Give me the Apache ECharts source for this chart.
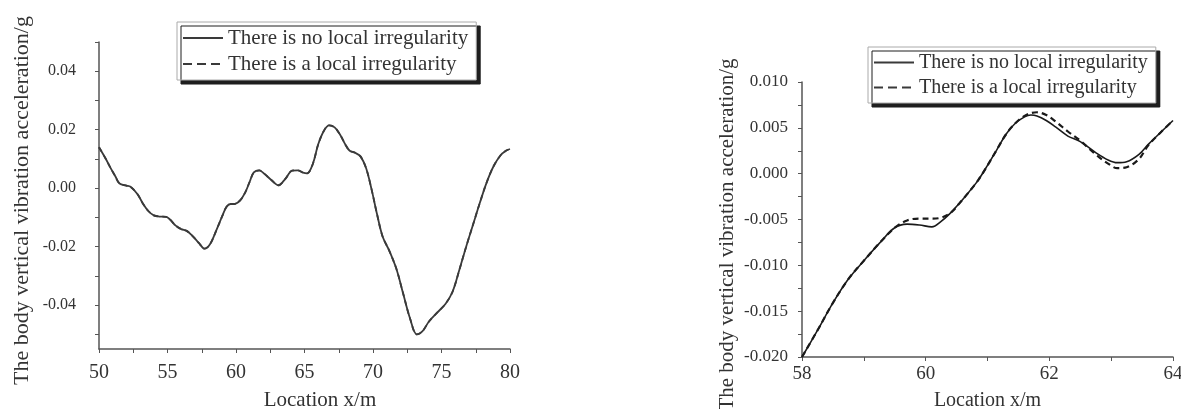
<!DOCTYPE html>
<html>
<head>
<meta charset="utf-8">
<script src="https://cdn.jsdelivr.net/npm/echarts@6/dist/echarts.min.js"></script>
<style>
html,body{margin:0;padding:0;background:#fff;}
#chart{width:1181px;height:409px;}
</style>
</head>
<body>
<div id="chart"></div>
<script>
// ---------- Data ----------
const seriesNames = ['There is no local irregularity', 'There is a local irregularity'];
const xAxisName = 'Location x/m';
const yAxisName = 'The body vertical vibration acceleration/g';

// Left chart (50–80 m)
const leftX = [50.0, 50.5, 50.8, 51.2, 51.5, 52.0, 52.3, 52.8, 53.2, 53.6, 54.0, 54.4, 54.9, 55.2, 55.6, 56.0, 56.4, 56.8, 57.3, 57.7, 58.1, 58.6, 59.0, 59.3, 59.6, 59.9, 60.3, 60.7, 61.0, 61.3, 61.7, 62.1, 62.6, 63.1, 63.6, 64.1, 64.5, 64.9, 65.2, 65.6, 66.0, 66.4, 66.8, 67.2, 67.6, 68.0, 68.3, 68.7, 69.1, 69.5, 69.9, 70.3, 70.7, 71.2, 71.7, 72.2, 72.7, 73.2, 73.6, 74.1, 74.7, 75.3, 75.8, 76.3, 76.8, 77.3, 77.8, 78.3, 78.8, 79.3, 79.7, 80.0];
const leftNoIrr = [0.0140, 0.0100, 0.0073, 0.0040, 0.0016, 0.0009, 0.0005, -0.0020, -0.0052, -0.0078, -0.0093, -0.0097, -0.0098, -0.0108, -0.0128, -0.0140, -0.0146, -0.0162, -0.0188, -0.0207, -0.0192, -0.0140, -0.0095, -0.0064, -0.0054, -0.0054, -0.0042, -0.0012, 0.0022, 0.0054, 0.0061, 0.0048, 0.0027, 0.0010, 0.0032, 0.0060, 0.0061, 0.0053, 0.0051, 0.0082, 0.0150, 0.0195, 0.0215, 0.0208, 0.0183, 0.0148, 0.0128, 0.0121, 0.0108, 0.0068, -0.0005, -0.0090, -0.0165, -0.0215, -0.0275, -0.0360, -0.0445, -0.0500, -0.0490, -0.0455, -0.0425, -0.0395, -0.0355, -0.0280, -0.0200, -0.0125, -0.0050, 0.0020, 0.0075, 0.0112, 0.0128, 0.0134];
const leftIrr = [0.0140, 0.0100, 0.0073, 0.0040, 0.0016, 0.0009, 0.0005, -0.0020, -0.0052, -0.0078, -0.0093, -0.0097, -0.0098, -0.0108, -0.0128, -0.0140, -0.0146, -0.0162, -0.0188, -0.0207, -0.0192, -0.0140, -0.0095, -0.0064, -0.0054, -0.0054, -0.0042, -0.0012, 0.0022, 0.0054, 0.0061, 0.0048, 0.0027, 0.0010, 0.0032, 0.0060, 0.0061, 0.0053, 0.0051, 0.0082, 0.0150, 0.0195, 0.0215, 0.0208, 0.0183, 0.0148, 0.0128, 0.0121, 0.0108, 0.0068, -0.0005, -0.0090, -0.0165, -0.0215, -0.0275, -0.0360, -0.0445, -0.0500, -0.0490, -0.0455, -0.0425, -0.0395, -0.0355, -0.0280, -0.0200, -0.0125, -0.0050, 0.0020, 0.0075, 0.0112, 0.0128, 0.0134];
const leftXTickLabels = [50, 55, 60, 65, 70, 75, 80];
const leftXTicks = [50, 52.5, 55, 57.5, 60, 62.5, 65, 67.5, 70, 72.5, 75, 77.5, 80];
const leftYTickLabels = [-0.04, -0.02, 0.00, 0.02, 0.04];
const leftYTicks = [-0.05, -0.04, -0.03, -0.02, -0.01, 0.00, 0.01, 0.02, 0.03, 0.04, 0.05];

// Right chart (58–64 m)
const rightX = [58.0, 58.25, 58.5, 58.75, 59.0, 59.25, 59.5, 59.7, 59.9, 60.1, 60.25, 60.4, 60.55, 60.7, 60.85, 61.0, 61.15, 61.3, 61.45, 61.6, 61.7, 61.8, 61.95, 62.1, 62.3, 62.5, 62.75, 62.95, 63.1, 63.25, 63.45, 63.6, 63.8, 64.0];
const rightNoIrr = [-0.0200, -0.0171, -0.0141, -0.0115, -0.0095, -0.0076, -0.0059, -0.0055, -0.0056, -0.0058, -0.0052, -0.0043, -0.0032, -0.0020, -0.0007, 0.0009, 0.0026, 0.0043, 0.0055, 0.0062, 0.0064, 0.0063, 0.0058, 0.0051, 0.0041, 0.0035, 0.0023, 0.0015, 0.0012, 0.0013, 0.0021, 0.0032, 0.0045, 0.0058];
const rightIrr = [-0.0200, -0.0171, -0.0141, -0.0115, -0.0095, -0.0076, -0.0059, -0.0051, -0.0049, -0.0049, -0.0048, -0.0043, -0.0032, -0.0020, -0.0007, 0.0009, 0.0026, 0.0043, 0.0055, 0.0063, 0.0066, 0.0067, 0.0064, 0.0057, 0.0046, 0.0036, 0.0021, 0.0011, 0.0006, 0.0007, 0.0016, 0.0031, 0.0045, 0.0058];
const rightXTickLabels = [58, 60, 62, 64];
const rightXTicks = [58, 59, 60, 61, 62, 63, 64];
const rightYTickLabels = [-0.020, -0.015, -0.010, -0.005, 0.000, 0.005, 0.010];
const rightYTicks = [-0.020, -0.0175, -0.015, -0.0125, -0.010, -0.0075, -0.005, -0.0025, 0.000, 0.0025, 0.005, 0.0075, 0.010];

// ---------- Chart ----------
const FONT = 'Liberation Serif';
const TXT = '#333';
const AXC = '#555';
const pairs = (xs, ys) => xs.map((x, i) => [x, ys[i]]);

function xAxisCfg(grid, min, max, ticks, labels, labelSize, labelMargin, nameSize, nameGap, namePadLeft) {
  return {
    type: 'value', gridIndex: grid, min: min, max: max,
    name: xAxisName, nameLocation: 'middle', nameGap: nameGap,
    nameTextStyle: { fontFamily: FONT, fontSize: nameSize, color: TXT, padding: [0, 0, 0, namePadLeft] },
    axisLine: { show: true, onZero: false, lineStyle: { color: AXC, width: 1.5 } },
    axisTick: { show: true, inside: false, length: 4, customValues: ticks, lineStyle: { color: AXC, width: 1 } },
    axisLabel: { customValues: labels, fontFamily: FONT, fontSize: labelSize, color: TXT, margin: labelMargin,
      formatter: v => String(v) },
    splitLine: { show: false }
  };
}
function yAxisCfg(grid, min, max, ticks, labels, digits, labelSize, labelMargin, nameSize, nameGap, namePadRight) {
  return {
    type: 'value', gridIndex: grid, min: min, max: max,
    name: yAxisName, nameLocation: 'middle', nameGap: nameGap,
    nameTextStyle: { fontFamily: FONT, fontSize: nameSize, color: TXT, padding: [0, namePadRight, 0, 0] },
    axisLine: { show: true, onZero: false, lineStyle: { color: AXC, width: 1.5 } },
    axisTick: { show: true, inside: false, length: 4, customValues: ticks, lineStyle: { color: AXC, width: 1 } },
    axisLabel: { customValues: labels, fontFamily: FONT, fontSize: labelSize, color: TXT, margin: labelMargin,
      formatter: v => Number(v).toFixed(digits) },
    splitLine: { show: false }
  };
}
function legendCfg(left, top, fontSize, lineHeight) {
  return {
    data: [
      { name: seriesNames[0], lineStyle: { type: 'solid', width: 2 } },
      { name: seriesNames[1], lineStyle: { type: [9, 5], width: 2 } }
    ],
    orient: 'vertical', left: left, top: top,
    padding: [4, 8, 4, 5], itemGap: 2, itemWidth: 40, itemHeight: 14,
    backgroundColor: '#fff', borderColor: '#aaa', borderWidth: 1,
    shadowColor: '#1e1e1e', shadowBlur: 0.5, shadowOffsetX: 4, shadowOffsetY: 4,
    selectedMode: false,
    itemStyle: { color: 'rgba(0,0,0,0)', borderWidth: 0, opacity: 0 },
    textStyle: { fontFamily: FONT, fontSize: fontSize, color: TXT, lineHeight: lineHeight }
  };
}

const chart = echarts.init(document.getElementById('chart'), null, { renderer: 'canvas' });
chart.setOption({
  animation: false,
  backgroundColor: '#fff',
  grid: [
    { left: 99, right: 671, top: 42, bottom: 60, containLabel: false, outerBoundsMode: 'none' },
    { left: 802, right: 8, top: 82, bottom: 52, containLabel: false, outerBoundsMode: 'none' }
  ],
  legend: [legendCfg(177, 22, 21, 24), legendCfg(868, 47, 20, 23)],
  xAxis: [
    xAxisCfg(0, 50, 80, leftXTicks, leftXTickLabels, 20, 14, 21, 41, 31),
    xAxisCfg(1, 58, 64, rightXTicks, rightXTickLabels, 19, 8, 20, 34, 0)
  ],
  yAxis: [
    yAxisCfg(0, -0.055, 0.05, leftYTicks, leftYTickLabels, 2, 16, 23, 22, 66, 10),
    yAxisCfg(1, -0.020, 0.010, rightYTicks, rightYTickLabels, 3, 17, 14, 21, 64, 30)
  ],
  series: [
    { name: seriesNames[1], type: 'line', xAxisIndex: 0, yAxisIndex: 0, data: pairs(leftX, leftIrr),
      smooth: 0.35, symbol: 'none', lineStyle: { color: '#3a3a3a', width: 1.8, type: [5, 4] }, z: 2 },
    { name: seriesNames[0], type: 'line', xAxisIndex: 0, yAxisIndex: 0, data: pairs(leftX, leftNoIrr),
      smooth: 0.35, symbol: 'none', lineStyle: { color: '#3a3a3a', width: 1.8, type: 'solid' }, z: 3 },
    { name: seriesNames[1], type: 'line', xAxisIndex: 1, yAxisIndex: 1, data: pairs(rightX, rightIrr),
      smooth: 0.35, symbol: 'none', lineStyle: { color: '#1a1a1a', width: 2.2, type: [6, 4] }, z: 2 },
    { name: seriesNames[0], type: 'line', xAxisIndex: 1, yAxisIndex: 1, data: pairs(rightX, rightNoIrr),
      smooth: 0.35, symbol: 'none', lineStyle: { color: '#1a1a1a', width: 1.6, type: 'solid' }, z: 3 }
  ]
});
</script>
</body>
</html>
